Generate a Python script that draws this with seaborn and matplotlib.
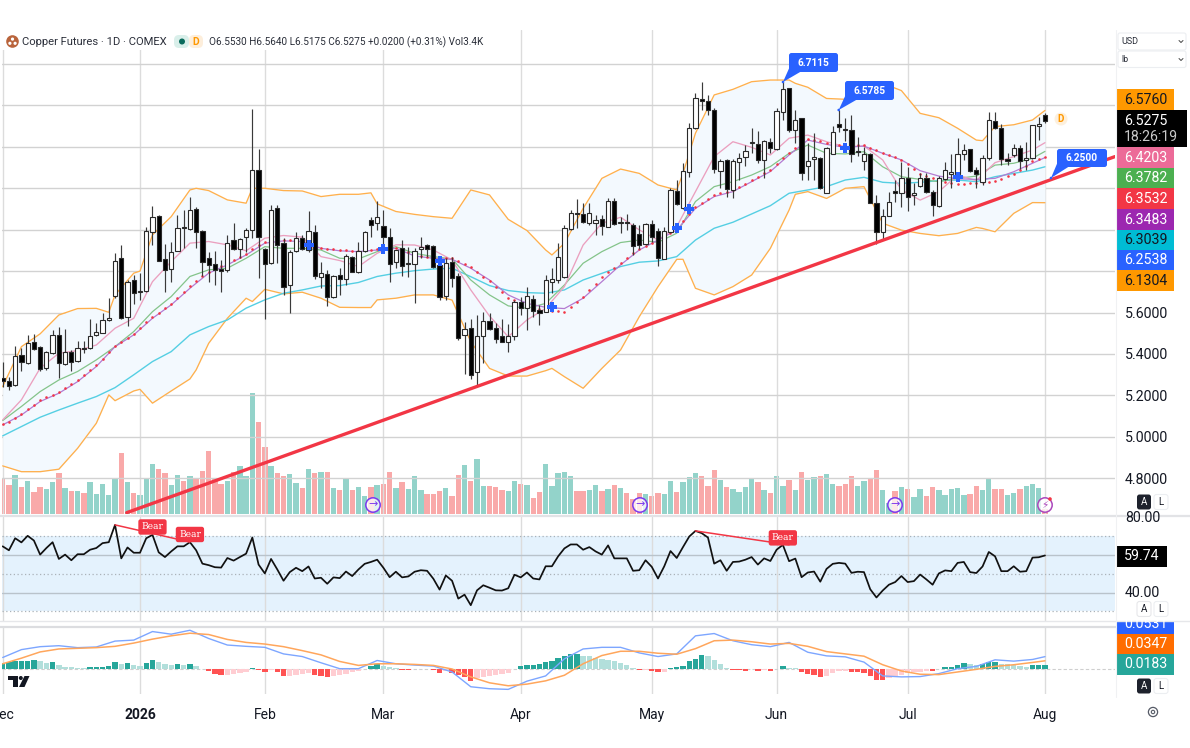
import numpy as np
import matplotlib
matplotlib.use("Agg")
import matplotlib.pyplot as plt
from matplotlib.patches import FancyBboxPatch, Rectangle, Circle, Polygon
import seaborn as sns

sns.set_style("white")
plt.rcParams['font.family'] = ['Roboto', 'DejaVu Sans']

# --------------------------
# DATA
# --------------------------
opens = [5.282,5.271,5.249,5.394,5.358,5.456,5.431,5.331,5.403,5.489,5.350,5.411,5.365,5.429,5.427,5.489,5.503,5.563,5.680,5.862,
         5.577,5.756,5.700,5.706,5.991,6.065,5.857,5.809,5.899,6.009,6.004,6.100,5.996,5.862,5.835,5.809,5.806,5.951,5.907,5.967,
         5.997,6.287,5.907,5.838,6.104,5.935,5.733,5.899,5.959,5.902,5.988,5.770,5.785,5.677,5.782,5.762,5.867,5.798,5.899,6.047,
         6.031,6.017,5.964,5.843,5.910,5.833,5.833,5.907,5.925,5.920,5.830,5.680,5.846,5.778,5.491,5.524,5.311,5.487,5.559,5.524,
         5.485,5.456,5.488,5.649,5.620,5.664,5.612,5.604,5.748,5.757,5.773,6.004,6.082,6.076,6.034,6.034,6.050,6.015,6.137,6.031,
         6.033,6.021,5.979,5.929,6.029,5.992,5.860,5.991,6.189,6.103,6.281,6.490,6.632,6.622,6.578,6.285,6.337,6.192,6.329,6.353,
         6.421,6.413,6.337,6.425,6.390,6.567,6.683,6.482,6.538,6.308,6.340,6.345,6.179,6.366,6.509,6.485,6.482,6.375,6.332,6.364,
         6.127,5.987,6.068,6.187,6.176,6.251,6.166,6.211,6.248,6.184,6.114,6.245,6.269,6.269,6.366,6.388,6.288,6.229,6.345,6.527,
         6.490,6.340,6.361,6.393,6.335,6.345,6.501,6.5530]
highs = [5.363,5.290,5.439,5.427,5.492,5.495,5.439,5.416,5.516,5.529,5.521,5.419,5.464,5.464,5.567,5.551,5.600,5.669,5.889,5.927,
         5.757,5.782,5.790,6.015,6.115,6.071,5.930,5.939,6.071,6.096,6.157,6.112,5.999,5.894,5.898,5.854,5.972,6.034,5.959,6.010,
         6.584,6.389,5.910,6.120,6.120,5.959,5.902,5.991,5.975,6.088,6.022,5.846,5.806,5.782,5.814,5.883,5.873,5.939,5.994,6.063,
         6.141,6.096,6.007,5.902,5.950,5.918,5.910,5.963,5.930,5.926,5.862,5.862,5.870,5.789,5.556,5.567,5.588,5.601,5.596,5.551,
         5.569,5.545,5.661,5.677,5.725,5.685,5.636,5.781,5.814,5.934,6.023,6.095,6.147,6.128,6.128,6.071,6.071,6.152,6.152,6.063,
         6.076,6.031,6.023,6.031,6.047,6.007,6.015,6.200,6.240,6.324,6.514,6.659,6.715,6.651,6.587,6.340,6.340,6.340,6.369,6.409,
         6.490,6.479,6.434,6.442,6.590,6.7115,6.683,6.578,6.538,6.417,6.465,6.350,6.401,6.501,6.5785,6.538,6.554,6.446,6.401,6.369,
         6.168,6.098,6.184,6.240,6.329,6.301,6.224,6.275,6.272,6.192,6.259,6.329,6.366,6.441,6.412,6.388,6.304,6.361,6.570,6.570,
         6.510,6.369,6.414,6.409,6.425,6.508,6.546,6.5640]
lows = [5.242,5.226,5.245,5.315,5.352,5.419,5.316,5.323,5.400,5.282,5.347,5.319,5.363,5.403,5.422,5.487,5.500,5.561,5.672,5.567,
        5.535,5.642,5.661,5.701,5.927,5.849,5.701,5.745,5.899,5.910,5.999,5.910,5.774,5.745,5.733,5.701,5.798,5.902,5.862,5.894,
        5.959,5.766,5.569,5.833,5.838,5.685,5.600,5.894,5.902,5.894,5.762,5.717,5.632,5.672,5.685,5.733,5.794,5.793,5.894,5.967,
        5.999,5.927,5.749,5.817,5.777,5.773,5.644,5.862,5.870,5.814,5.661,5.661,5.722,5.467,5.301,5.277,5.250,5.358,5.516,5.451,
        5.459,5.411,5.467,5.588,5.516,5.580,5.540,5.604,5.693,5.741,5.765,5.999,6.007,6.031,6.023,5.975,5.975,6.012,6.023,5.986,
        5.999,5.878,5.907,5.926,5.942,5.825,5.859,5.983,6.120,6.099,6.256,6.485,6.578,6.554,6.276,6.200,6.160,6.152,6.240,6.308,
        6.369,6.321,6.248,6.369,6.385,6.530,6.473,6.417,6.240,6.240,6.240,6.195,6.176,6.366,6.473,6.430,6.325,6.356,6.288,6.127,
        5.929,5.950,6.066,6.135,6.108,6.092,6.119,6.208,6.176,6.068,6.108,6.240,6.200,6.264,6.337,6.280,6.200,6.216,6.337,6.486,
        6.312,6.312,6.353,6.292,6.288,6.341,6.433,6.5175]
closes = [5.271,5.245,5.392,5.363,5.455,5.426,5.329,5.411,5.489,5.358,5.408,5.363,5.427,5.426,5.487,5.505,5.563,5.572,5.851,5.572,
          5.746,5.693,5.703,5.994,6.060,5.851,5.806,5.891,6.010,6.007,6.096,5.991,5.846,5.830,5.806,5.802,5.938,5.907,5.954,5.999,
          6.286,5.964,5.835,6.096,5.927,5.725,5.891,5.962,5.907,5.993,5.774,5.790,5.677,5.778,5.762,5.873,5.798,5.899,5.988,6.023,
          6.060,5.967,5.833,5.902,5.825,5.838,5.899,5.918,5.909,5.822,5.677,5.841,5.767,5.475,5.520,5.298,5.487,5.559,5.520,5.471,
          5.459,5.488,5.653,5.620,5.681,5.609,5.596,5.757,5.760,5.870,6.007,6.082,6.078,6.036,6.081,6.045,6.020,6.137,6.026,6.033,
          6.031,5.923,5.926,6.029,5.967,5.862,5.992,6.192,6.126,6.282,6.493,6.635,6.622,6.578,6.292,6.334,6.195,6.334,6.345,6.382,
          6.424,6.337,6.427,6.396,6.574,6.678,6.482,6.530,6.275,6.333,6.353,6.200,6.393,6.473,6.494,6.482,6.364,6.380,6.364,6.127,
          5.987,6.068,6.135,6.176,6.248,6.159,6.176,6.251,6.180,6.119,6.248,6.288,6.277,6.366,6.385,6.283,6.269,6.345,6.530,6.490,
          6.340,6.333,6.396,6.333,6.345,6.506,6.510,6.5275]
# relative volume (bar heights)
volumes = [105,88,117,80,100,67,80,75,96,122,78,70,70,63,96,60,89,58,108,184,96,63,58,106,151,135,123,88,118,100,115,108,130,190,105,90,
           100,125,145,115,363,275,200,145,122,115,120,93,78,135,123,127,125,78,72,109,72,82,55,82,87,91,127,78,
           95,75,114,73,60,60,70,78,55,117,147,100,165,85,85,80,72,70,100,89,87,48,67,149,85,123,127,115,70,70,73,88,70,76,88,78,63,45,63,60,54,63,61,
           100,65,95,112,122,113,85,132,102,82,76,67,80,109,97,73,63,115,85,102,72,
           126,102,111,115,120,91,85,89,113,85,100,109,133,72,33,68,82,76,50,74,55,82,72,57,74,78,57,59,85,72,109,74,74,57,63,74,85,91,78,15]
vol_teal_extra = [161]

# Bollinger bands, read at the sessions where the band bends
bb_idx = [0,3,6,9,12,15,17,18,21,22,24,27,30,31,33,36,39,40,42,45,48,51,54,57,59,60,63,
          66,69,72,75,78,81,84,87,88,90,93,96,99,102,105,108,109,111,114,117,120,123,126,127,
          129,132,135,138,141,144,147,150,153,156,157,159,162,165,167]
bb_upper = [5.242,5.435,5.497,5.588,5.619,5.620,5.601,5.685,5.790,5.800,5.975,6.063,6.192,6.200,6.189,6.144,6.128,6.200,6.200,6.189,6.187,6.160,6.171,6.171,6.178,6.125,6.088,
            6.074,6.063,6.055,6.192,6.168,6.050,5.996,5.902,5.878,5.934,6.103,6.248,6.293,6.272,6.216,6.192,6.272,6.466,6.651,6.678,6.715,6.723,6.723,6.707,
            6.688,6.634,6.630,6.634,6.707,6.672,6.562,6.541,6.490,6.433,6.430,6.498,6.507,6.530,6.5760]
bb_lower = [4.859,4.831,4.831,4.843,4.944,5.065,5.202,5.174,5.221,5.229,5.162,5.221,5.279,5.323,5.451,5.572,5.669,5.653,5.712,5.690,5.698,5.669,5.625,5.624,5.624,5.661,5.669,
            5.685,5.685,5.660,5.459,5.330,5.293,5.293,5.319,5.330,5.290,5.234,5.330,5.419,5.580,5.725,5.857,5.857,5.717,5.685,5.725,5.781,5.910,6.095,6.171,
            6.184,6.151,6.200,6.208,6.031,5.998,5.982,5.971,5.982,6.011,6.006,5.990,6.079,6.131,6.1304]

# moving averages, sampled every third session
ma_idx = list(range(0, 166, 3)) + [167]
ema_pink = [5.081,5.178,5.331,5.403,5.416,5.443,5.524,5.572,5.749,5.846,5.935,5.943,5.927,5.898,5.959,5.972,5.964,5.870,5.851,5.822,5.886,5.927,
            5.926,5.902,5.854,5.709,5.583,5.483,5.564,5.620,5.725,5.926,6.031,6.060,5.999,5.950,6.015,6.184,6.353,6.425,6.398,6.361,6.442,
            6.457,6.425,6.401,6.404,6.337,6.192,6.143,6.184,6.264,6.237,6.324,6.353,6.385,6.4203]
ema_green = [5.078,5.146,5.218,5.274,5.315,5.371,5.435,5.508,5.604,5.677,5.774,5.806,5.814,5.862,5.918,5.910,5.910,5.902,5.862,5.859,5.894,5.918,
             5.886,5.870,5.859,5.757,5.685,5.632,5.620,5.644,5.733,5.838,5.894,5.938,5.950,5.939,5.983,6.136,6.208,6.232,6.264,6.305,6.369,
             6.409,6.369,6.366,6.377,6.304,6.256,6.243,6.232,6.248,6.259,6.312,6.321,6.345,6.3782]
ema_purple = [5.057,5.105,5.170,5.210,5.266,5.339,5.435,5.492,5.572,5.637,5.717,5.790,5.830,5.878,5.935,5.946,5.943,5.910,5.898,5.894,5.902,5.910,
              5.873,5.862,5.857,5.814,5.757,5.685,5.644,5.625,5.619,5.669,5.749,5.830,5.902,5.950,5.999,6.103,6.160,6.184,6.232,6.281,6.361,
              6.433,6.412,6.398,6.404,6.369,6.337,6.285,6.259,6.246,6.243,6.248,6.280,6.321,6.3483]
ema_cyan = [5.004,5.049,5.094,5.129,5.162,5.194,5.237,5.299,5.363,5.411,5.492,5.532,5.564,5.621,5.661,5.693,5.709,5.728,5.730,5.745,5.774,5.790,
            5.802,5.810,5.814,5.773,5.730,5.706,5.696,5.693,5.709,5.757,5.789,5.822,5.843,5.849,5.870,5.950,6.007,6.036,6.076,6.116,6.176,
            6.192,6.208,6.240,6.253,6.229,6.224,6.229,6.237,6.240,6.232,6.256,6.272,6.288,6.3039]
# red dotted average, one dot per session
dots_red = [5.061,5.072,5.090,5.110,5.132,5.154,5.176,5.190,5.203,5.216,5.235,5.254,5.272,5.296,5.320,5.345,5.376,5.408,5.438,5.458,5.478,5.498,
            5.525,5.552,5.578,5.600,5.622,5.643,5.670,5.698,5.727,5.752,5.774,5.796,5.810,5.823,5.836,5.852,5.868,5.884,5.905,5.924,5.942,5.946,
            5.948,5.950,5.950,5.949,5.948,5.938,5.926,5.914,5.909,5.905,5.902,5.901,5.899,5.898,5.900,5.903,5.906,5.909,5.912,5.914,
            5.902,5.890,5.878,5.874,5.870,5.866,5.864,5.863,5.862,5.848,5.833,5.818,5.796,5.773,5.750,5.724,5.698,5.672,5.658,5.644,5.630,5.624,
            5.618,5.612,5.608,5.606,5.604,5.628,5.652,5.676,5.708,5.740,5.772,5.794,5.816,5.838,5.862,5.886,5.908,5.922,5.936,5.948,5.966,5.985,
            6.004,6.040,6.075,6.110,6.130,6.150,6.168,6.176,6.183,6.190,6.206,6.222,6.238,6.255,6.272,6.290,6.318,6.346,6.372,6.396,6.418,6.440,
            6.434,6.427,6.420,6.414,6.409,6.404,6.406,6.408,6.410,6.397,6.385,6.372,6.361,6.350,6.338,6.315,6.292,6.270,6.259,6.248,6.238,6.232,
            6.227,6.222,6.223,6.225,6.226,6.229,6.232,6.236,6.246,6.258,6.270,6.290,6.310,6.330,6.342,6.3532]
plus_idx = [49, 61, 70, 88, 108, 110, 135, 153]
plus_val = [5.927, 5.907, 5.849, 5.627, 6.007, 6.099, 6.393, 6.2538]

# trend line end points (session, price)
trend_x = [19.87, 178.2]
trend_y = [4.633, 6.353]

# RSI for every session
rsi = [64.6,62.5,68.9,66.7,70.2,67.7,60.2,63.7,66.8,57.9,60.2,57.2,60.4,60.4,62.8,63.7,66.3,66.8,76.0,58.2,64.0,61.2,61.2,68.9,70.7,61.4,58.9,61.9,
       64.6,64.6,66.8,62.5,55.4,54.6,53.5,53.3,58.4,57.0,58.9,60.7,69.3,54.9,50.2,57.9,52.3,46.3,50.9,53.2,51.4,53.9,47.5,47.9,44.7,48.1,47.7,51.2,
       48.8,52.3,55.3,56.3,57.5,53.2,48.2,51.1,48.1,48.6,51.1,51.9,51.6,47.4,41.6,49.1,46.3,36.8,38.9,33.3,41.2,43.9,42.6,41.2,41.1,42.3,49.5,48.1,
       50.7,47.5,47.0,54.0,54.0,59.3,63.5,65.6,65.6,62.8,64.2,61.9,
       60.2,65.1,58.2,58.2,58.2,51.6,51.9,57.2,53.7,47.5,54.0,62.1,58.4,64.2,69.8,72.8,71.6,69.3,55.4,57.2,51.6,56.3,56.5,57.5,58.9,54.9,58.2,56.8,
       62.8,65.4,56.7,58.1,48.2,50.7,51.2,45.8,52.6,55.3,55.8,55.4,50.5,51.1,50.9,41.8,37.4,41.1,44.2,45.6,48.8,45.6,46.1,49.6,47.0,44.2,50.2,51.8,
       51.4,55.8,56.3,50.9,50.4,53.9,61.6,59.3,51.4,51.4,54.0,51.1,51.4,58.6,58.8,59.74]
# divergence pairs: (session, RSI)
bear_x = [[18, 30], [111, 126]]
bear_y = [[76.0, 66.9], [72.8, 65.4]]
bear_tag_x = [24, 30, 125]
bear_tag_y = [74.9, 70.9, 69.1]

# MACD
macd_hist = [.0261,.0290,.0319,.0319,.0348,.0362,.0319,.0246,.0290,.0145,.0087,.0058,.0043,.0029,.0058,.0058,.0087,.0116,.0275,.0188,.0232,.0174,
             .0130,.0261,.0362,.0290,.0203,.0159,.0188,.0145,.0188,.0130,-.0014,-.0116,-.0217,-.0290,-.0261,-.0232,-.0174,-.0145,.0043,-.0043,
             -.0159,-.0043,-.0130,-.0319,-.0304,-.0261,-.0217,-.0203,-.0261,-.0304,-.0377,-.0319,-.0261,-.0217,-.0159,-.0116,-.0029,.0101,.0188,
             .0116,.0058,.0014,-.0058,-.0072,-.0029,-.0014,-.0014,-.0043,-.0174,-.0116,-.0174,-.0290,-.0362,-.0536,-.0406,-.0362,-.0319,-.0290,
             -.0246,-.0203,-.0014,.0101,.0174,.0174,.0188,.0290,.0348,.0464,.0551,.0638,.0667,.0580,.0551,.0464,
             .0406,.0391,.0348,.0261,.0174,.0029,-.0072,-.0043,-.0087,-.0159,-.0130,.0014,.0072,.0130,.0319,.0435,.0594,.0551,.0362,.0217,.0029,
             -.0058,-.0072,-.0101,-.0029,-.0116,-.0058,-.0116,.0,.0130,.0043,.0014,-.0145,-.0217,-.0261,-.0362,-.0304,-.0203,-.0116,-.0101,-.0145,
             -.0159,-.0174,-.0304,-.0478,-.0507,-.0391,-.0362,-.0290,-.0203,-.0145,-.0130,-.0101,-.0116,-.0029,.0058,.0087,.0174,.0246,.0188,.0145,
             .0188,.0290,.0304,.0217,.0188,.0145,.0116,.0072,.0174,.0174,.0183]
macd_line = [.0493,.0841,.0971,.1014,.0928,.0957,.1217,.1261,.1638,.1522,.1696,.1333,.1043,.0986,.0942,.0652,.0536,.0261,0,0,.0362,.0217,.0159,.0116,
             -.0145,-.0797,-.0884,-.0913,-.0551,-.0319,.0435,.0870,
             .0942,.0942,.0696,.0536,.0652,.1449,.1551,.1232,.1058,.0971,.1159,.0725,.0565,.0522,.0290,-.0319,-.0362,-.0348,-.0217,0,.0101,.0391,.0333,.0406,.0531]
macd_signal = [.0217,.0464,.0739,.0870,.0899,.0928,.0986,.1130,.1304,.1449,.1565,.1507,.1290,.1159,.1087,.0971,.0797,.0609,.0319,.0145,.0217,.0217,.0188,.0145,
               -.0014,-.0362,-.0623,-.0754,-.0681,-.0536,-.0290,.0217,
               .0580,.0768,.0768,.0681,.0638,.0884,.1232,.1261,.1188,.1087,.1116,.0986,.0754,.0652,.0551,.0174,-.0101,-.0246,-.0261,-.0145,-.0029,.0101,.0174,.0275,.0347]

price_ticks = [4.8, 5.0, 5.2, 5.4, 5.6, 5.8, 6.0, 6.2, 6.4, 6.6, 6.8]
month_idx = [0, 22, 42, 61, 83, 104, 124, 145, 167]
month_labels = ['Dec', '2026', 'Feb', 'Mar', 'Apr', 'May', 'Jun', 'Jul', 'Aug']

# --------------------------
# LAYOUT (pixel rows of the panes)
# --------------------------
W, H = 1190, 748
XLIM = (-0.11, 178.22)
GRID = '#d2d2d2'

fig = plt.figure(figsize=(W / 100, H / 100), dpi=100, facecolor='white')

def pane(top, bottom):
    a = fig.add_axes([2 / W, 1 - bottom / H, 1113 / W, (bottom - top) / H])
    a.set_xlim(*XLIM)
    a.set_xticks(month_idx)
    a.set_xticklabels([])
    a.tick_params(length=0)
    a.grid(axis='x', color='#dcdcdc', lw=1)
    for s in a.spines.values():
        s.set_visible(False)
    a.set_axisbelow(True)
    return a

def line(a, x, y, **kw):
    sns.lineplot(x=x, y=y, ax=a, estimator=None, sort=False, legend=False, **kw)

idx = np.arange(len(closes))

# --------------------------
# VOLUME (behind the price pane)
# --------------------------
ax_vol = pane(30, 514)
ax_vol.set_ylim(0, 1450)
ax_vol.set_yticks([])
ax_vol.grid(False)
vol_colors = ['#93d3ca' if (c >= o or i in vol_teal_extra) else '#f9a9a9'
              for i, (o, c) in enumerate(zip(opens, closes))]
ax_vol.bar(idx, volumes, width=0.86, color=vol_colors, linewidth=0)

# --------------------------
# PRICE
# --------------------------
ax = pane(30, 514)
ax.patch.set_visible(False)
ax.set_ylim(4.6266, 6.9647)
ax.yaxis.tick_right()
ax.set_yticks(price_ticks)
ax.set_yticklabels([f'{t:.4f}' if t <= 5.6 else '' for t in price_ticks], fontsize=10.2, color='#131722')
ax.tick_params(axis='y', pad=7)
ax.grid(axis='y', color=GRID, lw=1)

ax.fill_between(bb_idx, bb_lower, bb_upper, color='#f3f9fe', lw=0, zorder=1)
line(ax, bb_idx, bb_upper, color='#ffb04d', lw=0.95, zorder=2)
line(ax, bb_idx, bb_lower, color='#ffb04d', lw=0.95, zorder=2)
line(ax, ma_idx, ema_cyan, color='#55cfe3', lw=1, zorder=2)
line(ax, ma_idx, ema_green, color='#84c48a', lw=0.9, zorder=2)
line(ax, ma_idx, ema_pink, color='#eba0bf', lw=0.95, zorder=2)
line(ax, ma_idx, ema_purple, color='#b47bd2', lw=0.9, zorder=2)
sns.scatterplot(x=idx, y=dots_red, ax=ax, color='#f23645', s=3.5, linewidth=0, zorder=2, legend=False)

ax.vlines(idx, lows, highs, color='#3a3a3a', lw=0.85, zorder=3)
body_low = np.minimum(opens, closes)
body_h = np.maximum(np.abs(np.array(closes) - np.array(opens)), 0.004)
body_col = ['white' if c >= o else 'black' for o, c in zip(opens, closes)]
ax.bar(idx, body_h, bottom=body_low, width=0.68, color=body_col, edgecolor='#2a2a2a', linewidth=0.8, zorder=4)

sns.scatterplot(x=plus_idx, y=plus_val, ax=ax, color='#2962ff', marker='P', s=48, linewidth=0, zorder=5, legend=False)
line(ax, trend_x, trend_y, color='#f23645', lw=2.4, zorder=6)

# --------------------------
# RSI
# --------------------------
ax_rsi = pane(517, 621)
ax_rsi.set_ylim(24.9, 80.2)
ax_rsi.axhspan(30, 70, color='#e4f2fd', lw=0, zorder=0)
for v in [60, 40]:
    ax_rsi.axhline(v, color='#b9c3cb', lw=1, zorder=1)
for v in [70, 50, 30]:
    ax_rsi.axhline(v, color='#aab2b8', lw=0.9, ls=(0, (1, 2)), zorder=1)
ax_rsi.set_yticks([])
line(ax_rsi, idx, rsi, color='#111111', lw=1.25, zorder=3)
for bx, by in zip(bear_x, bear_y):
    line(ax_rsi, bx, by, color='#f23645', lw=1.1, zorder=4)
for tx, ty in zip(bear_tag_x, bear_tag_y):
    ax_rsi.text(tx, ty, 'Bear', color='white', fontsize=6.6, family='DejaVu Serif', ha='center', va='center', zorder=6,
                bbox=dict(boxstyle='round,pad=0.35,rounding_size=0.25', fc='#f23645', ec='none'))

# --------------------------
# MACD
# --------------------------
ax_macd = pane(627, 694)
ax_macd.set_ylim(-0.1117, 0.1839)
ax_macd.set_yticks([])
hist_colors = []
for i, h in enumerate(macd_hist):
    prev = macd_hist[i - 1] if i else h
    if h >= 0:
        hist_colors.append('#26a69a' if h >= prev else '#b2dfdb')
    else:
        hist_colors.append('#ff5252' if h < prev else '#ffcdd2')
ax_macd.axhline(0, color='#cfcfcf', lw=0.8, ls=(0, (3, 2)), zorder=1)
ax_macd.bar(idx, macd_hist, width=0.86, color=hist_colors, linewidth=0, zorder=2)
line(ax_macd, ma_idx, macd_line, color='#7da6ff', lw=1, zorder=3)
line(ax_macd, ma_idx, macd_signal, color='#ffa65c', lw=1.1, zorder=3)
ax_macd.set_xticklabels(month_labels, fontsize=10, color='#131722')
ax_macd.get_xticklabels()[1].set_fontweight('bold')
ax_macd.tick_params(axis='x', pad=10)

# --------------------------
# CHROME, in pixel coordinates
# --------------------------
ui = fig.add_axes([0, 0, 1, 1], zorder=10)
ui.set_xlim(0, W)
ui.set_ylim(H, 0)
ui.axis('off')
ui.patch.set_visible(False)

ui.plot([0, W], [515.5, 515.5], color='#e2e3e6', lw=1.6)
ui.plot([0, W], [621, 621], color='#e6e7ea', lw=1)
ui.plot([0, 1116], [626.5, 626.5], color='#dcdde0', lw=1.6)
ui.plot([1115.5, 1115.5], [30, 697], color='#f0f1f3', lw=0.8)
ui.add_patch(Rectangle((0, 30), 485, 20, fc='white', ec='none'))

def box(x0, y0, x1, y1, fc, ec='none', r=1.5, lw=0.8, **kw):
    ui.add_patch(FancyBboxPatch((x0 + r, y0 + r), x1 - x0 - 2 * r, y1 - y0 - 2 * r,
                                boxstyle=f'round,pad={r},rounding_size={r}', fc=fc, ec=ec, lw=lw, **kw))

# top legend
ui.add_patch(Circle((12.5, 41.5), 6.3, fc='#b9643c', ec='none'))
for dx, dy in [(0, -2.4), (-2.6, 1.8), (2.6, 1.8)]:
    ui.add_patch(Circle((12.5 + dx, 41.5 + dy), 1.6, fc='white', ec='none'))
ui.text(22, 41.8, 'Copper Futures · 1D · COMEX', fontsize=8.1, color='#2a2e39', va='center')
box(174, 35, 189, 48, '#d9efea', r=5)
box(189, 35, 203, 48, '#fdeedb', r=5)
ui.add_patch(Circle((182, 41.5), 3.0, fc='#0a6b5c', ec='none'))
ui.text(195.5, 41.8, 'D', fontsize=7.5, color='#ff9800', fontweight='bold', ha='center', va='center')
ui.text(209, 41.8, 'O6.5530 H6.5640 L6.5175 C6.5275 +0.0200 (+0.31%) Vol3.4K', fontsize=7.2, color='#2a2e39', va='center')

# value tags on the right
tags = [(89.3, 110, '6.5760', '#ff9800', '#131722'),
        (147, 167.7, '6.4203', '#ec6b98', 'white'),
        (167.7, 188.2, '6.3782', '#4caf50', 'white'),
        (188.2, 209, '6.3532', '#f23645', 'white'),
        (209, 229.5, '6.3483', '#9c27b0', 'white'),
        (229.5, 250, '6.3039', '#00bcd4', '#131722'),
        (250, 270, '6.2538', '#2962ff', 'white'),
        (270, 290.5, '6.1304', '#ff9800', '#131722')]
for y0, y1, txt, fc, tc in tags:
    ui.add_patch(Rectangle((1115.5, y0), 58.5, y1 - y0, fc=fc, ec='none'))
    ui.text(1124, (y0 + y1) / 2 + 0.3, txt, fontsize=10.2, color=tc, va='center')
ui.add_patch(Rectangle((1115.5, 110), 71.5, 37, fc='black', ec='none'))
ui.text(1124, 121, '6.5275', fontsize=10.2, color='white', va='center')
ui.text(1124, 137, '18:26:19', fontsize=10.2, color='#c9c9c9', va='center')

ui.add_patch(Rectangle((1115.5, 546), 51.5, 21, fc='black', ec='none'))
ui.text(1124, 556.5, '59.74', fontsize=10.2, color='white', va='center')
ui.text(1125, 518, '80.00', fontsize=10.2, color='#131722', va='center')
ui.text(1125, 593, '40.00', fontsize=10.2, color='#131722', va='center')

for y0, y1, ty, txt, fc in [(622, 633.5, 624.5, '0.0531', '#2962ff'), (633.5, 654, 643.8, '0.0347', '#ff6d00'),
                            (654, 674.5, 664.5, '0.0183', '#26a69a')]:
    r = Rectangle((1115.5, y0), 58.5, y1 - y0, fc=fc, ec='none')
    ui.add_patch(r)
    t = ui.text(1124, ty, txt, fontsize=10.2, color='white', va='center')
    t.set_clip_path(r)

# currency and unit boxes
box(1118, 33, 1186, 50, 'white', ec='#eceef1', r=2)
box(1118, 51, 1186, 67.5, 'white', ec='#eceef1', r=2)
ui.text(1121, 41.5, 'USD', fontsize=6.5, color='#2a2e39', va='center')
ui.text(1121, 59.5, 'lb', fontsize=6.5, color='#2a2e39', va='center')
for yy in (41.5, 59.5):
    ui.plot([1179, 1181, 1183], [yy - 1, yy + 1, yy - 1], color='#444', lw=0.7)

# callouts
for x0, y0, x1, y1, px, py, txt in [(789, 53, 838, 72, 783, 82, '6.7115'),
                                    (845, 81, 894, 100, 838.7, 110, '6.5785'),
                                    (1057, 149, 1107, 167, 1051, 178, '6.2500')]:
    box(x0, y0, x1, y1, '#2962ff', r=2.5)
    ui.add_patch(Polygon([(px, py), (x0 + 2, y1 - 8), (x0 + 12, y1 - 0.5)], fc='#2962ff', ec='none'))
    ui.add_patch(Circle((px, py), 1.3, fc='#2962ff', ec='none'))
    ui.text((x0 + x1) / 2, (y0 + y1) / 2 + 0.3, txt, fontsize=7.3, color='white', fontweight='bold', ha='center', va='center')

# event icons on the volume strip
for cx in (373, 640, 895):
    ui.add_patch(Circle((cx, 505), 7.2, fc=(1, 1, 1, 0.75), ec='#7c3aed', lw=1.1))
    ui.text(cx, 504.6, '→', fontsize=8, color='#7c3aed', ha='center', va='center', family='DejaVu Sans')
ui.add_patch(Circle((1045, 505), 7.2, fc=(1, 1, 1, 0.75), ec='#ab47bc', lw=1.1))
ui.text(1045, 505, '⚡', fontsize=7.5, color='#ab47bc', ha='center', va='center', family='DejaVu Sans')
ui.add_patch(Circle((1050, 499), 1.8, fc='#f23645', ec='none'))

# earnings badge
ui.add_patch(Circle((1061, 119), 6.5, fc='#fdf0dd', ec='none'))
ui.text(1061, 119.3, 'D', fontsize=7, color='#ff9800', fontweight='bold', ha='center', va='center')

# scale buttons
for cy, dark in [(502, True), (609, False), (686, True)]:
    box(1137, cy - 7.5, 1151, cy + 7.5, '#1e222d' if dark else 'white', ec='none' if dark else '#e6e7ea', r=2.5)
    box(1154, cy - 7.5, 1168, cy + 7.5, 'white', ec='#eceef1', r=2.5)
    ui.text(1144, cy + 0.2, 'A', fontsize=7, color='white' if dark else '#131722', ha='center', va='center')
    ui.text(1161, cy + 0.2, 'L', fontsize=7, color='#131722', ha='center', va='center')

# platform logo, bottom left of the MACD pane
ui.add_patch(Polygon([(8, 676), (17.5, 676), (17.5, 687), (12.5, 687), (12.5, 680), (8, 680)], fc='#131722', ec='none'))
ui.add_patch(Circle((20.8, 678), 2.0, fc='#131722', ec='none'))
ui.add_patch(Polygon([(24.5, 676), (29.5, 676), (24.5, 687), (19, 687)], fc='#131722', ec='none'))

ui.add_patch(Circle((1153, 712), 4.6, fc='white', ec='#555a66', lw=0.9))
ui.add_patch(Circle((1153, 712), 1.7, fc='white', ec='#555a66', lw=0.8))

fig.savefig('out.png', dpi=100, facecolor='white')
